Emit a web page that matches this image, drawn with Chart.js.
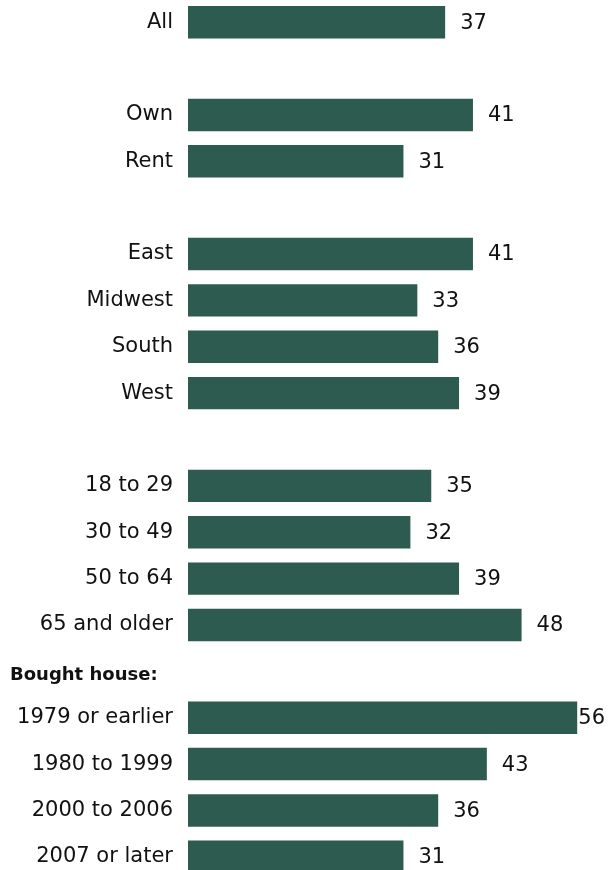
<!DOCTYPE html>
<html>
<head>
<meta charset="utf-8">
<script src="https://cdn.jsdelivr.net/npm/chart.js@4/dist/chart.umd.min.js"></script>
<style>
  html, body { margin: 0; padding: 0; background: #fff; overflow: hidden; }
  #wrap { position: absolute; left: 0; top: -1px; width: 614px; height: 881px; }
</style>
</head>
<body>
<div id="wrap"><canvas id="c1"></canvas></div>
<script>
// rows top to bottom; '' rows are spacers between groups
var categories = [
    'All', '',
    'Own', 'Rent', '',
    'East', 'Midwest', 'South', 'West', '',
    '18 to 29', '30 to 49', '50 to 64', '65 and older',
    'Bought house:',
    '1979 or earlier', '1980 to 1999', '2000 to 2006', '2007 or later'
];
var values = [
    37, null,
    41, 31, null,
    41, 33, 36, 39, null,
    35, 32, 39, 48,
    null,
    56, 43, 36, 31
];
var headings = ['Bought house:'];

(function(divId){
    var barColor = '#2d5b4f';
    var textColor = '#111';
    var font = 'DejaVu Sans, Verdana, sans-serif';

    // value to the right of each bar, kept inside the plot area
    var valueLabels = {
        id: 'valueLabels',
        afterDatasetsDraw: function(chart) {
            var ctx = chart.ctx;
            var area = chart.chartArea;
            var meta = chart.getDatasetMeta(0);
            ctx.save();
            ctx.font = '21px ' + font;
            ctx.fillStyle = textColor;
            ctx.textBaseline = 'middle';
            ctx.textAlign = 'left';
            meta.data.forEach(function(bar, i) {
                var v = values[i];
                if (v === null) return;
                var txt = String(v);
                var w = ctx.measureText(txt).width;
                var x = Math.min(bar.x + 15, area.right - w);
                ctx.fillText(txt, x, bar.y + 1);
            });
            ctx.restore();
        }
    };

    // bold group heading, left aligned in the label column
    var groupHeadings = {
        id: 'groupHeadings',
        afterDraw: function(chart) {
            var ctx = chart.ctx;
            var y = chart.scales.y;
            ctx.save();
            ctx.font = 'bold 18px ' + font;
            ctx.fillStyle = textColor;
            ctx.textBaseline = 'middle';
            ctx.textAlign = 'left';
            headings.forEach(function(h) {
                var i = categories.indexOf(h);
                ctx.fillText(h, 10, y.getPixelForValue(i) + 4);
            });
            ctx.restore();
        }
    };

    var data = {
        labels: categories,
        datasets: [
            {
                data: values,
                backgroundColor: barColor,
                borderWidth: 0,
                barPercentage: 0.7,
                categoryPercentage: 1
            }
        ]
    };

    var options = {
        indexAxis: 'y',
        responsive: true,
        maintainAspectRatio: false,
        animation: false,
        layout: { padding: { left: 0, right: 9, top: 0, bottom: 0 } },
        plugins: {
            legend: { display: false },
            tooltip: { enabled: false }
        },
        scales: {
            x: {
                display: false,
                min: 0,
                max: 60
            },
            y: {
                grid: { display: false, drawTicks: false },
                border: { display: false },
                afterFit: function(scale) {
                    // fixed label column, rows run edge to edge
                    scale.width = 188;
                    scale.paddingTop = 0;
                    scale.paddingBottom = 0;
                },
                ticks: {
                    autoSkip: false,
                    padding: 15,
                    color: textColor,
                    font: { family: font, size: 21 },
                    callback: function(val, i) {
                        var label = categories[i];
                        return headings.indexOf(label) >= 0 ? '' : label;
                    }
                }
            }
        }
    };

    var div = document.getElementById(divId);
    if (!div)
        return;

    var ctx = div.getContext("2d");
    var chart = new Chart(ctx, {
        type: 'bar',
        data: data,
        options: options,
        plugins: [valueLabels, groupHeadings]
    });
})("c1");
</script>
</body>
</html>
